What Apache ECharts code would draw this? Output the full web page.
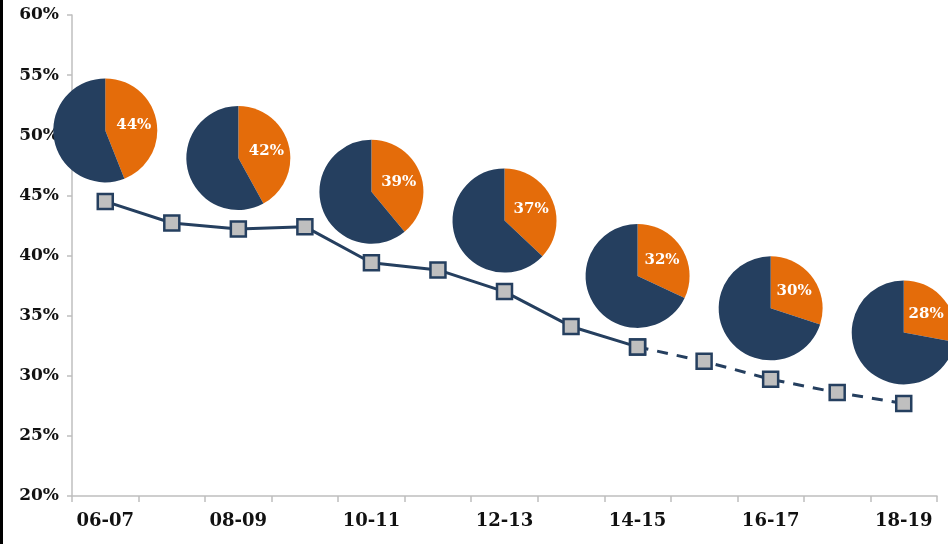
<!DOCTYPE html>
<html>
<head>
<meta charset="utf-8">
<script src="https://cdn.jsdelivr.net/npm/echarts@6/dist/echarts.min.js"></script>
<style>
html,body{margin:0;padding:0;background:#fff;}
#chart{width:948px;height:544px;}
</style>
</head>
<body>
<div id="chart"></div>
<script>
// ---- data ----
const categories = ['06-07','07-08','08-09','09-10','10-11','11-12','12-13','13-14','14-15','15-16','16-17','17-18','18-19'];
const rates = [44.5, 42.7, 42.2, 42.4, 39.4, 38.8, 37.0, 34.1, 32.4, 31.2, 29.7, 28.6, 27.7];
const forecastStartIndex = 8; // dashed from 14-15 onward
const pieCategories = ['06-07','08-09','10-11','12-13','14-15','16-17','18-19'];
const pieShares = [44, 42, 39, 37, 32, 30, 28];
const yMin = 20, yMax = 60, yStep = 5;

// ---- styles ----
const NAVY = '#253F5F';
const ORANGE = '#E46C0A';
const MARKER = '#BFBFBF';
const AXIS = '#BFBFBF';
const FONT = 'DejaVu Serif';
const PIE_RADIUS = 52;
const PIE_LIFT = 71; // px above the point

const solid = rates.map((v, i) => i <= forecastStartIndex ? v : null);
const dashed = rates.map((v, i) => i >= forecastStartIndex ? v : null);

const chart = echarts.init(document.getElementById('chart'));

function pieSeries(centers) {
  return pieCategories.map((c, k) => ({
    type: 'pie',
    z: 5,
    radius: PIE_RADIUS,
    center: centers ? centers[k] : [0, 0],
    startAngle: 90,
    clockwise: true,
    silent: true,
    animation: false,
    label: {
      show: true,
      position: 'inside',
      color: '#fff',
      fontFamily: FONT,
      fontWeight: 'bold',
      fontSize: 15,
      formatter: p => p.dataIndex === 0 ? p.value + '%' : ''
    },
    labelLine: { show: false },
    itemStyle: { borderWidth: 0 },
    data: [
      { value: pieShares[k], itemStyle: { color: ORANGE } },
      { value: 100 - pieShares[k], itemStyle: { color: NAVY }, label: { show: false } }
    ]
  }));
}

const lineCommon = {
  type: 'line',
  symbol: 'rect',
  symbolSize: 15,
  showSymbol: true,
  connectNulls: false,
  animation: false,
  z: 3,
  itemStyle: { color: MARKER, borderColor: NAVY, borderWidth: 2.5 },
};

const option = {
  animation: false,
  grid: { left: 72, right: 11, top: 15, bottom: 48 },
  xAxis: {
    type: 'category',
    data: categories,
    boundaryGap: true,
    axisLine: { lineStyle: { color: AXIS, width: 1.5 } },
    axisTick: { show: true, length: 6, lineStyle: { color: AXIS, width: 1.5 }, interval: 0 },
    axisLabel: {
      interval: 1,
      margin: 16,
      color: '#111',
      fontFamily: FONT,
      fontWeight: 'bold',
      fontSize: 18
    },
    splitLine: { show: false }
  },
  yAxis: {
    type: 'value',
    min: yMin,
    max: yMax,
    interval: yStep,
    axisLine: { show: true, lineStyle: { color: AXIS, width: 1.5 } },
    axisTick: { show: true, length: 5, lineStyle: { color: AXIS, width: 1.5 } },
    axisLabel: {
      margin: 13,
      color: '#111',
      fontFamily: FONT,
      fontWeight: 'bold',
      fontSize: 17,
      formatter: v => v + '%'
    },
    splitLine: { show: false }
  },
  graphic: [{
    type: 'rect',
    shape: { x: 0, y: 0, width: 3, height: 544 },
    style: { fill: '#000' },
    silent: true
  }],
  series: [
    Object.assign({}, lineCommon, { data: solid, lineStyle: { color: NAVY, width: 3 } }),
    Object.assign({}, lineCommon, { data: dashed, lineStyle: { color: NAVY, width: 3, type: [11, 9] } })
  ]
};

chart.setOption(option);

const centers = pieCategories.map(c => {
  const idx = categories.indexOf(c);
  const p = chart.convertToPixel({ xAxisIndex: 0, yAxisIndex: 0 }, [idx, rates[idx]]);
  return [p[0], p[1] - PIE_LIFT];
});

chart.setOption({ series: option.series.concat(pieSeries(centers)) });
</script>
</body>
</html>
